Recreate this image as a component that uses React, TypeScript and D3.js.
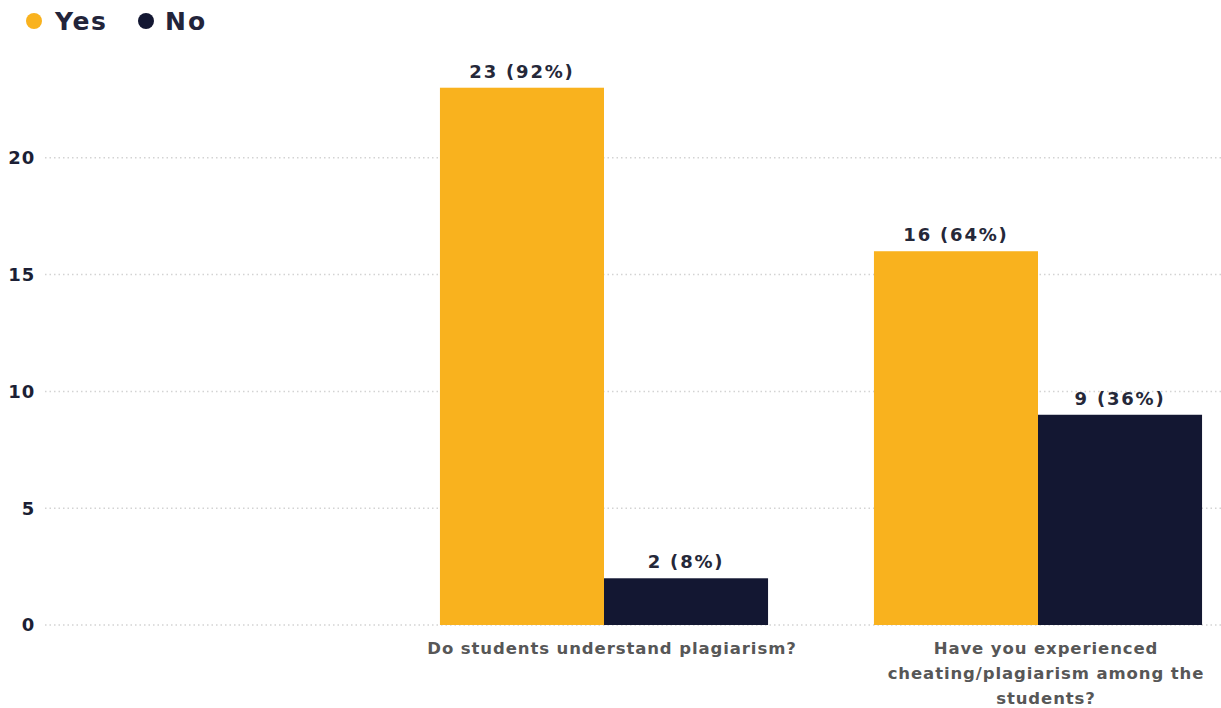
import React from "react";
import * as d3 from "d3";

const categories = [
  "Do students understand plagiarism?",
  "Have you experienced cheating/plagiarism among the students?",
];
const categoryLines = [
  ["Do students understand plagiarism?"],
  ["Have you experienced", "cheating/plagiarism among the", "students?"],
];
const seriesNames = ["Yes", "No"];
const yesValues = [23, 16];
const noValues = [2, 9];
const yesLabels = ["23 (92%)", "16 (64%)"];
const noLabels = ["2 (8%)", "9 (36%)"];
const yTicks = [0, 5, 10, 15, 20];

const colors = ["#F9B21E", "#131732"];
const W = 1221;
const H = 708;
const FONT = "'DejaVu Sans', 'Open Sans', sans-serif";

export default function App() {
  const x = d3
    .scaleBand<string>()
    .domain(categories)
    .range([387, 1255])
    .paddingInner(0.244)
    .paddingOuter(0.122);
  const xs = d3.scaleBand<string>().domain(seriesNames).range([0, x.bandwidth()]);
  const y = d3.scaleLinear().domain([0, 25]).range([625, 41]);

  const series = [
    { name: "Yes", values: yesValues, labels: yesLabels, color: colors[0] },
    { name: "No", values: noValues, labels: noLabels, color: colors[1] },
  ];

  return (
    <svg
      width={W}
      height={H}
      style={{ position: "absolute", left: 0, top: 0, background: "#fff" }}
      fontFamily={FONT}
    >
      {/* legend */}
      <g>
        <circle cx={34} cy={21} r={8} fill={colors[0]} />
        <text x={55} y={30} fontSize={25} fontWeight={700} letterSpacing={1.6} fill="#22243a">
          Yes
        </text>
        <circle cx={146} cy={21} r={8} fill={colors[1]} />
        <text x={165} y={30} fontSize={25} fontWeight={700} letterSpacing={2} fill="#22243a">
          No
        </text>
      </g>
      {/* grid */}
      {yTicks.map((t) => (
        <g key={t}>
          <line
            x1={45}
            x2={W}
            y1={y(t)}
            y2={y(t)}
            stroke="#d3d3d3"
            strokeWidth={1.5}
            strokeDasharray="1.5 3"
          />
          <text
            x={35}
            y={y(t)}
            dy="0.35em"
            textAnchor="end"
            fontSize={18}
            fontWeight={700}
            letterSpacing={0.8}
            fill="#1c1f35"
          >
            {t}
          </text>
        </g>
      ))}
      {/* bars */}
      {categories.map((c, i) => (
        <g key={c} transform={`translate(${x(c)},0)`}>
          {series.map((s) => (
            <g key={s.name}>
              <rect
                x={xs(s.name)}
                y={y(s.values[i])}
                width={xs.bandwidth()}
                height={y(0) - y(s.values[i])}
                fill={s.color}
              />
              <text
                x={(xs(s.name) as number) + xs.bandwidth() / 2}
                y={y(s.values[i]) - 10}
                textAnchor="middle"
                fontSize={18}
                fontWeight={700}
                letterSpacing={1.8}
                fill="#252839"
              >
                {s.labels[i]}
              </text>
            </g>
          ))}
          <text
            x={x.bandwidth() / 2 + 8}
            y={654}
            textAnchor="middle"
            fontSize={16.5}
            fontWeight={700}
            letterSpacing={0.9}
            fill="#575757"
          >
            {categoryLines[i].map((l, j) => (
              <tspan key={j} x={x.bandwidth() / 2 + 8} dy={j === 0 ? 0 : 25}>
                {l}
              </tspan>
            ))}
          </text>
        </g>
      ))}
    </svg>
  );
}
